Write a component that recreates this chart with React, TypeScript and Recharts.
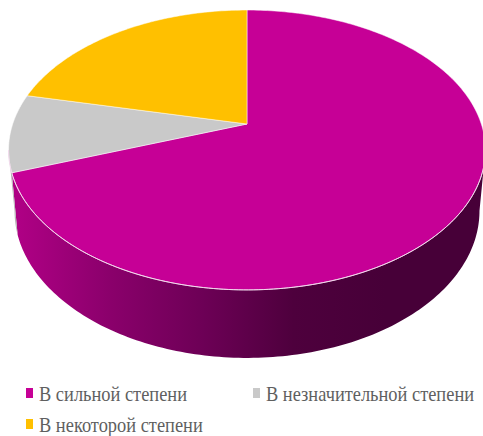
import React from "react";
import { PieChart, Pie, Legend } from "recharts";

const categories = ["В сильной степени", "В незначительной степени", "В некоторой степени"];
const shares = [69.5, 9, 21.5];
const topColors = ["#C60096", "#C9C9C9", "#FFC000"];
const wallColors = [
  ["#AE0084", "#8A006B", "#6D0056", "#4E003D", "#470038"],
  ["#B4B4B4", "#B4B4B4", "#A0A0A0", "#909090", "#808080"],
  ["#E0A800", "#E0A800", "#C09000", "#A07800", "#806000"],
];

const data = categories.map((name, i) => ({ name, value: shares[i], fill: topColors[i], idx: i }));

const PERSPECTIVE = 0.1857;
const SQUASH = 0.5766;
const RAD = Math.PI / 180;

function project(cx: number, cy: number, r: number, clockwiseDeg: number) {
  const t = Math.cos(clockwiseDeg * RAD);
  const u = Math.sin(clockwiseDeg * RAD);
  const w = 1 + PERSPECTIVE * t;
  return { x: cx + (r * u) / w, y: cy - (r * SQUASH * t) / w };
}

// The lower rim of the drum: same outline, a little narrower and pushed down.
function lower(cx: number, p: { x: number; y: number }) {
  return { x: cx + (p.x - cx) * 0.975, y: p.y + 68 - 0.051 * (290 - p.y) };
}

const fmt = (p: { x: number; y: number }) => `${p.x.toFixed(2)},${p.y.toFixed(2)}`;

function Slice3D(props: any) {
  const { cx, cy, outerRadius, startAngle, endAngle, fill, payload } = props;
  const from = 90 - startAngle;
  const to = 90 - endAngle;
  const rim: { x: number; y: number }[] = [];
  for (let a = from; a < to; a += 1) rim.push(project(cx, cy, outerRadius, a));
  rim.push(project(cx, cy, outerRadius, to));
  const top = `M${cx},${cy} L${rim.map(fmt).join(" L")} Z`;

  const silhouette = (Math.acos(-PERSPECTIVE) / RAD);
  const wallFrom = Math.max(from, silhouette);
  const wallTo = Math.min(to, 360 - silhouette);
  const idx = payload?.idx ?? props.idx ?? 0;
  const gid = `wall-${idx}`;
  let wall: string | null = null;
  if (wallTo > wallFrom) {
    const pts: { x: number; y: number }[] = [];
    for (let a = wallFrom; a < wallTo; a += 1) pts.push(project(cx, cy, outerRadius, a));
    pts.push(project(cx, cy, outerRadius, wallTo));
    const back = pts.map((p) => lower(cx, p)).reverse();
    wall = `M${pts.map(fmt).join(" L")} L${back.map(fmt).join(" L")} Z`;
  }
  const rimPts: { x: number; y: number }[] = [];
  if (wall) {
    for (let a = wallFrom; a < wallTo; a += 1) rimPts.push(project(cx, cy, outerRadius, a));
    rimPts.push(project(cx, cy, outerRadius, wallTo));
  }
  const stops = wallColors[idx];
  return (
    <g>
      <defs>
        <linearGradient id={gid} gradientUnits="userSpaceOnUse" x1={20} y1={0} x2={385} y2={0}>
          {stops.map((c, i) => (
            <stop key={i} offset={i / (stops.length - 1)} stopColor={c} />
          ))}
        </linearGradient>
      </defs>
      {wall && <path d={wall} fill={`url(#${gid})`} />}
      <path d={top} fill={fill} stroke="#FFFFFF" strokeOpacity={0.7} strokeWidth={0.7} strokeLinejoin="round" />
      {wall && (
        <path d={`M${rimPts.map(fmt).join(" L")}`} fill="none" stroke="#F2D8EC" strokeWidth={1} />
      )}
    </g>
  );
}

function LegendBox(props: any) {
  const items = props.payload ?? [];
  return (
    <div style={{ display: "flex", flexWrap: "wrap", paddingLeft: 26, width: 483, height: 58, boxSizing: "border-box" }}>
      {items.map((it: any) => (
        <div key={it.value} style={{ width: 227, height: 31, position: "relative" }}>
          <span
            style={{
              position: "absolute",
              left: 0,
              top: 10,
              width: 7,
              height: 10,
              background: it.color,
            }}
          />
          <span
            style={{
              position: "absolute",
              left: 13,
              top: 7,
              fontFamily: "'Liberation Serif', serif",
              fontSize: 21,
              lineHeight: "18px",
              color: "#5F5F5F",
              whiteSpace: "nowrap",
              transform: "scaleX(0.876)",
              transformOrigin: "left center",
            }}
          >
            {it.value}
          </span>
        </div>
      ))}
    </div>
  );
}

export default function App() {
  return (
    <div style={{ position: "absolute", left: 0, top: 0, width: 483, height: 436, overflow: "hidden", background: "#fff" }}>
      <PieChart width={483} height={436} margin={{ top: 0, right: 0, bottom: 0, left: 0 }}>
        <Pie
          data={data}
          dataKey="value"
          nameKey="name"
          cx={247}
          cy={124}
          outerRadius={234.3}
          startAngle={90}
          endAngle={-270}
          stroke="none"
          shape={Slice3D}
          isAnimationActive={false}
        />
        <Legend
          content={LegendBox}
          itemSorter={null}
          wrapperStyle={{ left: 0, top: 378, bottom: "auto", width: 483, height: 58 }}
        />
      </PieChart>
    </div>
  );
}
